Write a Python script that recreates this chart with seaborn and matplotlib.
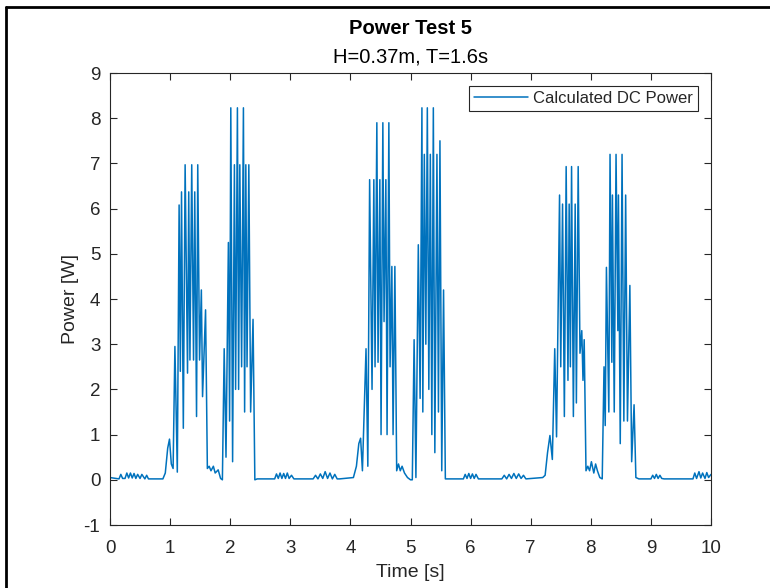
import numpy as np
import pandas as pd
import matplotlib
matplotlib.use("Agg")
import matplotlib.pyplot as plt
from matplotlib.lines import Line2D
import seaborn as sns

# ---- data ----
base0_t = [0.00, 0.05, 0.15, 0.18, 0.21, 0.25, 0.28, 0.31, 0.34, 0.37, 0.40, 0.43, 0.46, 0.50, 0.53, 0.58, 0.61, 0.64, 0.88]
base0_p = [0.05, 0.04, 0.02, 0.12, 0.03, 0.03, 0.15, 0.04, 0.15, 0.04, 0.14, 0.03, 0.12, 0.03, 0.12, 0.02, 0.10, 0.02, 0.02]

burst1_t = [0.92, 0.96, 0.99, 1.02, 1.05, 1.08, 1.12, 1.15, 1.17, 1.19, 1.22, 1.25, 1.29, 1.31, 1.33, 1.36, 1.39, 1.41,
            1.44, 1.46, 1.49, 1.52, 1.54, 1.59, 1.62, 1.65, 1.68, 1.72, 1.75, 1.80, 1.84]
burst1_p = [0.15, 0.7, 0.9, 0.35, 0.25, 2.95, 0.17, 6.08, 2.4, 6.37, 1.14, 6.97, 2.36, 6.37, 2.65, 6.97, 2.65, 6.37,
            1.4, 6.97, 2.65, 4.2, 1.84, 3.76, 0.25, 0.3, 0.2, 0.3, 0.15, 0.22, 0.03]

burst2_t = [1.87, 1.90, 1.93, 1.97, 1.99, 2.01, 2.04, 2.07, 2.09, 2.12, 2.14, 2.16, 2.19, 2.22, 2.24, 2.26, 2.28, 2.31,
            2.34, 2.38, 2.41]
burst2_p = [0.0, 2.9, 0.5, 5.25, 1.3, 8.23, 0.4, 6.97, 2.0, 8.23, 2.0, 6.97, 2.5, 8.23, 1.5, 6.97, 2.5, 6.97,
            1.5, 3.55, 0.0]

base1_t = [2.45, 2.74, 2.77, 2.80, 2.83, 2.86, 2.89, 2.92, 2.95, 2.98, 3.02, 3.06, 3.38, 3.42, 3.46, 3.50, 3.54, 3.58,
           3.62, 3.66, 3.70, 3.74, 3.78, 3.82, 4.05]
base1_p = [0.02, 0.02, 0.13, 0.03, 0.15, 0.03, 0.14, 0.03, 0.15, 0.03, 0.10, 0.02, 0.02, 0.10, 0.02, 0.13, 0.03, 0.18,
           0.03, 0.15, 0.02, 0.12, 0.02, 0.02, 0.05]

burst3_t = [4.10, 4.14, 4.17, 4.20, 4.26, 4.29, 4.32, 4.36, 4.39, 4.41, 4.44, 4.46, 4.49, 4.51, 4.54, 4.56, 4.59, 4.61,
            4.64, 4.66, 4.69, 4.71, 4.74, 4.77, 4.80, 4.83, 4.86, 4.90, 4.95, 5.00]
burst3_p = [0.3, 0.8, 0.92, 0.2, 2.9, 0.3, 6.64, 2.0, 6.64, 2.5, 7.9, 2.6, 6.64, 1.0, 7.9, 3.5, 6.64, 1.0,
            7.9, 2.5, 4.72, 1.0, 4.72, 0.2, 0.35, 0.2, 0.3, 0.15, 0.05, 0.0]

burst4_t = [5.03, 5.06, 5.09, 5.13, 5.16, 5.19, 5.205, 5.23, 5.255, 5.28, 5.305, 5.33, 5.355, 5.38, 5.405, 5.44,
            5.465, 5.49, 5.52, 5.55, 5.58]
burst4_p = [0.0, 3.1, 0.05, 5.2, 1.8, 8.23, 1.5, 7.2, 3.0, 8.23, 2.0, 7.2, 1.0, 8.23, 0.6, 7.2,
            1.5, 7.5, 0.2, 4.2, 0.02]

base2_t = [5.60, 5.88, 5.91, 5.94, 5.97, 6.00, 6.03, 6.06, 6.09, 6.13, 6.52, 6.56, 6.60, 6.64, 6.68, 6.72, 6.76, 6.80,
           6.84, 6.88, 6.92, 7.20]
base2_p = [0.02, 0.02, 0.12, 0.03, 0.14, 0.03, 0.13, 0.03, 0.12, 0.02, 0.02, 0.10, 0.02, 0.12, 0.03, 0.14, 0.03, 0.13,
           0.03, 0.10, 0.02, 0.05]

burst5_t = [7.24, 7.28, 7.32, 7.36, 7.40, 7.43, 7.48, 7.50, 7.53, 7.56, 7.59, 7.62, 7.64, 7.66, 7.68, 7.71, 7.74, 7.76,
            7.79, 7.82, 7.85, 7.87, 7.89, 7.92, 7.95, 7.98, 8.01, 8.05, 8.08, 8.11, 8.15]
burst5_p = [0.1, 0.6, 0.98, 0.45, 2.9, 0.95, 6.3, 2.5, 6.1, 1.4, 6.93, 2.2, 6.1, 2.5, 6.93, 1.4, 6.1, 1.7,
            6.93, 2.8, 3.3, 2.2, 3.1, 0.2, 0.3, 0.2, 0.4, 0.15, 0.35, 0.2, 0.05]

burst6_t = [8.19, 8.22, 8.24, 8.26, 8.30, 8.32, 8.35, 8.36, 8.39, 8.42, 8.45, 8.46, 8.49, 8.52, 8.55, 8.58, 8.61,
            8.65, 8.68, 8.72, 8.75]
burst6_p = [0.02, 2.5, 1.2, 4.7, 1.5, 7.2, 2.6, 6.3, 1.5, 7.2, 3.3, 6.3, 0.8, 7.2, 1.3, 6.3, 1.3,
            4.3, 0.4, 1.66, 0.05]

base3_t = [8.80, 9.00, 9.03, 9.06, 9.09, 9.12, 9.15, 9.18, 9.22, 9.70, 9.73, 9.76, 9.80, 9.83, 9.86, 9.90, 9.93,
           9.96, 10.0]
base3_p = [0.02, 0.02, 0.10, 0.03, 0.12, 0.03, 0.10, 0.03, 0.02, 0.02, 0.15, 0.03, 0.18, 0.04, 0.15, 0.03, 0.16,
           0.05, 0.12]

x_ticks = list(range(0, 11))
y_ticks = list(range(-1, 10))

time = (base0_t + burst1_t + burst2_t + base1_t + burst3_t + burst4_t + base2_t
        + burst5_t + burst6_t + base3_t)
power = (base0_p + burst1_p + burst2_p + base1_p + burst3_p + burst4_p + base2_p
         + burst5_p + burst6_p + base3_p)
df = pd.DataFrame({"Time": time, "Power": power})

# ---- style ----
sns.set_theme(style="white")
plt.rcParams["font.family"] = ["Liberation Sans", "DejaVu Sans"]
plt.rcParams["axes.unicode_minus"] = False
axc = "#262626"

fig = plt.figure(figsize=(7.7, 5.88), dpi=100)
ax = fig.add_axes([110 / 770, 1 - 525 / 588, (711 - 110) / 770, (525 - 73) / 588])

sns.lineplot(data=df, x="Time", y="Power", ax=ax, color="#0072BD", linewidth=1.1,
             estimator=None, sort=False, label="Calculated DC Power")

ax.set_xlim(0, 10)
ax.set_ylim(-1, 9)
ax.set_xticks(x_ticks)
ax.set_yticks(y_ticks)
ax.tick_params(direction="in", length=5, width=0.8, colors=axc, labelsize=13.5,
               top=True, right=True, bottom=True, left=True, labelcolor=axc)
ax.tick_params(axis="x", pad=11)
ax.tick_params(axis="y", pad=7)
for s in ax.spines.values():
    s.set_visible(True)
    s.set_color(axc)
    s.set_linewidth(0.8)

ax.set_xlabel("Time [s]", fontsize=14, color=axc, labelpad=5)
ax.set_ylabel("Power [W]", fontsize=14, color=axc, labelpad=3)

fig.text(0.533, 1 - 29 / 588, "Power Test 5", ha="center", va="center",
         fontsize=14.5, fontweight="bold", color="black")
fig.text(0.533, 1 - 57 / 588, "H=0.37m, T=1.6s", ha="center", va="center",
         fontsize=14.5, color="black")

leg = ax.legend(loc="upper right", frameon=True, fancybox=False, fontsize=12,
                handlelength=3.2, borderaxespad=0.8, borderpad=0.3, handletextpad=0.3)
leg.get_frame().set_edgecolor(axc)
leg.get_frame().set_linewidth(0.8)
leg.get_frame().set_alpha(1)
for t in leg.get_texts():
    t.set_color(axc)

# outer dark frame (left and top) as in the screenshot
fig.add_artist(Line2D([6 / 770, 6 / 770], [0, 1 - 7 / 588], transform=fig.transFigure,
                      color="black", linewidth=2))
fig.add_artist(Line2D([6 / 770, 1], [1 - 7 / 588, 1 - 7 / 588], transform=fig.transFigure,
                      color="black", linewidth=2))

fig.savefig("out.png", dpi=100)
